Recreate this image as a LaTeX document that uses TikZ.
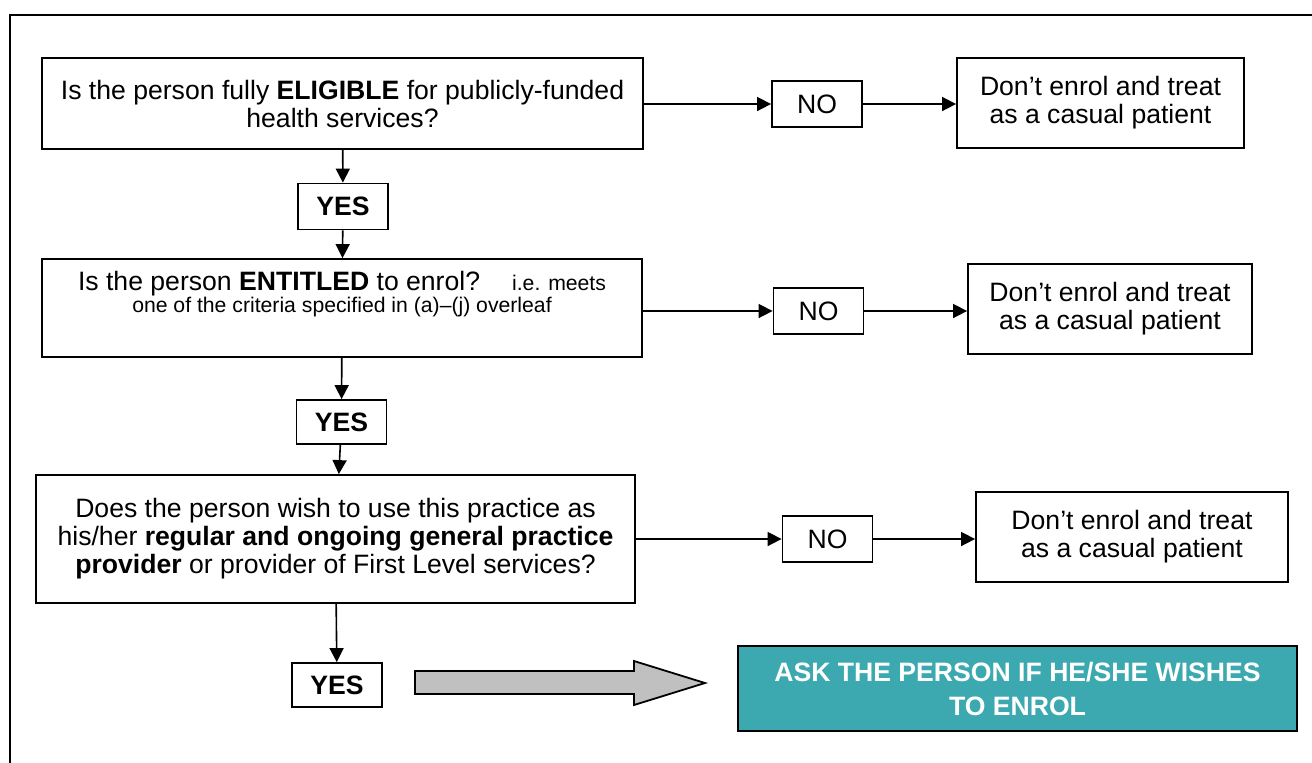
\documentclass[tikz,border=0pt]{standalone}
\usepackage{fontspec}
\setmainfont{Liberation Sans}
\usetikzlibrary{arrows.meta}
\definecolor{enrolteal}{HTML}{3CA9B1}
\definecolor{arrowgrey}{HTML}{C0C0C0}
\newcommand{\bigtxt}{\fontsize{13.3}{14}\selectfont}
\newcommand{\smalltxt}{\fontsize{10.6}{11}\selectfont}
\tikzset{
  qbox/.style={draw, line width=0.9pt, align=center, inner sep=0pt, font=\bigtxt},
  answer/.style={draw, line width=0.9pt, inner sep=0pt, minimum width=45pt, minimum height=23pt, font=\bigtxt},
  flow/.style={line width=0.8pt, -{Triangle[length=7pt,width=7pt]}},
}
\begin{document}
\begin{tikzpicture}[x=0.5pt, y=-0.5pt]
    \useasboundingbox (0,0) rectangle (1312,762);
    % outer frame
    \draw[line width=0.9pt] (10,775) -- (10,15) -- (1325,15);
    % questions
    \node [qbox, minimum width=300.5pt, minimum height=45.5pt] (eligible) at (342.5,103.5) {Is the person fully \textbf{ELIGIBLE} for publicly-funded\\health services?};
    \node [qbox, minimum width=300pt, minimum height=49pt] (entitled) at (342,308) {\raisebox{6pt}[\height][\depth]{\begin{tabular}{@{}c@{}}Is the person \textbf{ENTITLED} to enrol?\hspace{16pt}{\smalltxt i.e. meets}\\[-3pt]{\smalltxt one of the criteria specified in (a)--(j) overleaf}\end{tabular}}};
    \node [qbox, minimum width=299.5pt, minimum height=64pt] (wish) at (335.5,539) {Does the person wish to use this practice as\\his/her \textbf{regular and ongoing general practice}\\\textbf{provider} or provider of First Level services?};
    % answers
    \node [answer, font=\bigtxt\bfseries] (yes1) at (343,206.5) {YES};
    \node [answer, font=\bigtxt\bfseries, minimum height=22pt] (yes2) at (341.5,422) {YES};
    \node [answer, font=\bigtxt\bfseries, minimum height=22pt] (yes3) at (337,685) {YES};
    \node [answer] (no1) at (817,104) {NO};
    \node [answer] (no2) at (818.5,311) {NO};
    \node [answer] (no3) at (827.5,539) {NO};
    % outcomes
    \node [qbox, minimum width=143.5pt, minimum height=45pt] (casual1) at (1100.5,103) {Don’t enrol and treat\\as a casual patient};
    \node [qbox, minimum width=142pt, minimum height=45pt] (casual2) at (1110,309) {Don’t enrol and treat\\as a casual patient};
    \node [qbox, minimum width=156pt, minimum height=45pt] (casual3) at (1132,537) {Don’t enrol and treat\\as a casual patient};
    \node [draw, line width=0.7pt, fill=enrolteal, text=white, align=center, minimum width=279.5pt, minimum height=42.5pt, font=\fontsize{13.3}{17}\selectfont\bfseries] (ask) at (1017.5,688.5) {ASK THE PERSON IF HE/SHE WISHES\\TO ENROL};
    % connectors
    \path (eligible) edge[flow] (yes1);
    \path (yes1) edge[flow] (entitled);
    \path (entitled) edge[flow] (yes2);
    \path (yes2) edge[flow] (wish);
    \path (wish) edge[flow] (yes3);
    \path (eligible.east |- no1.west) edge[flow] (no1.west);
    \path (no1.east) edge[flow] (no1.east -| casual1.west);
    \path (entitled.east |- no2.west) edge[flow] (no2.west);
    \path (no2.east) edge[flow] (no2.east -| casual2.west);
    \path (wish.east |- no3.west) edge[flow] (no3.west);
    \path (no3.east) edge[flow] (no3.east -| casual3.west);
    % block arrow to the last step
    \draw[line width=0.9pt, fill=arrowgrey] (415,671) -- (634,671) -- (634,661) -- (705,683) -- (634,705) -- (634,694) -- (415,694) -- cycle;
\end{tikzpicture}
\end{document}
